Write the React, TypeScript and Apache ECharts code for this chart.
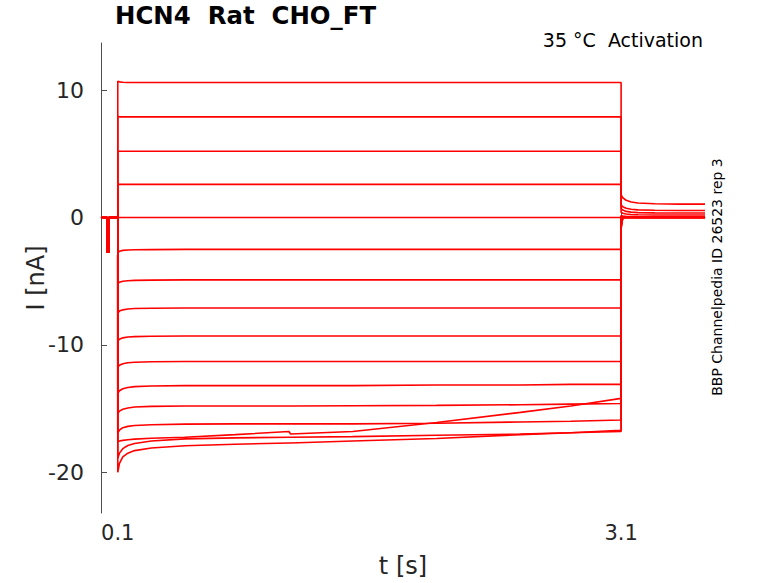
import React, { useEffect, useRef } from 'react'
import * as echarts from 'echarts'

// holding period with the short test pulse, then the step, then the tail
const baseTimes = [0, 0.037, 0.037, 0.047, 0.047, 0.1]
const baseCurrents = [0, 0, -2.7, -2.7, 0, 0]

const stepTimes = [0.1, 0.11, 0.13, 0.16, 0.2, 0.3, 0.5, 0.8, 1.12, 1.13, 1.5, 2.0, 2.5, 2.8, 3.1]
const stepCurrents = [
  [10.7, 10.65, 10.62, 10.6, 10.6, 10.6, 10.6, 10.6, 10.6, 10.6, 10.6, 10.6, 10.6, 10.6, 10.6],
  [7.95, 7.9, 7.9, 7.9, 7.9, 7.9, 7.9, 7.9, 7.9, 7.9, 7.9, 7.9, 7.9, 7.9, 7.9],
  [5.2, 5.2, 5.2, 5.2, 5.2, 5.2, 5.2, 5.2, 5.2, 5.2, 5.2, 5.2, 5.2, 5.2, 5.2],
  [2.6, 2.6, 2.6, 2.6, 2.6, 2.6, 2.6, 2.6, 2.6, 2.6, 2.6, 2.6, 2.6, 2.6, 2.6],
  [0, 0, 0, 0, 0, 0, 0, 0, 0, 0, 0, 0, 0, 0, 0],
  [-2.75, -2.65, -2.58, -2.55, -2.53, -2.52, -2.5, -2.5, -2.5, -2.5, -2.5, -2.5, -2.5, -2.5, -2.5],
  [-5.2, -5.08, -5.0, -4.96, -4.94, -4.92, -4.9, -4.9, -4.9, -4.9, -4.9, -4.9, -4.9, -4.9, -4.9],
  [-7.5, -7.35, -7.25, -7.18, -7.15, -7.12, -7.1, -7.1, -7.1, -7.1, -7.1, -7.1, -7.1, -7.1, -7.1],
  [-9.7, -9.55, -9.45, -9.38, -9.35, -9.32, -9.3, -9.3, -9.3, -9.3, -9.3, -9.3, -9.3, -9.3, -9.3],
  [-11.75, -11.6, -11.48, -11.4, -11.36, -11.32, -11.3, -11.3, -11.3, -11.3, -11.3, -11.3, -11.3, -11.3, -11.3],
  [-13.8, -13.6, -13.45, -13.35, -13.28, -13.23, -13.2, -13.2, -13.2, -13.2, -13.2, -13.15, -13.15, -13.1, -13.1],
  [-15.4, -15.2, -15.05, -14.95, -14.88, -14.83, -14.8, -14.8, -14.8, -14.8, -14.78, -14.75, -14.7, -14.65, -14.6],
  [-16.9, -16.7, -16.5, -16.4, -16.33, -16.27, -16.22, -16.2, -16.2, -16.2, -16.2, -16.15, -16.05, -16.0, -15.9],
  [-17.6, -17.55, -17.5, -17.45, -17.4, -17.33, -17.25, -17.05, -16.8, -17.0, -16.8, -16.1, -15.3, -14.8, -14.2],
  [-18.9, -18.5, -18.15, -17.9, -17.75, -17.55, -17.38, -17.3, -17.25, -17.25, -17.2, -17.1, -17.0, -16.9, -16.8],
  [-20.0, -19.3, -18.8, -18.5, -18.3, -18.1, -17.92, -17.8, -17.7, -17.7, -17.55, -17.35, -17.05, -16.9, -16.7],
]

const tailTimes = [3.1, 3.11, 3.13, 3.16, 3.2, 3.3, 3.45, 3.6]
const tailCurrents = [
  [1.8, 1.55, 1.35, 1.22, 1.14, 1.08, 1.05, 1.05],
  [1.0, 0.85, 0.72, 0.65, 0.6, 0.57, 0.55, 0.55],
  [0.7, 0.58, 0.48, 0.42, 0.38, 0.36, 0.35, 0.35],
  [0.4, 0.33, 0.27, 0.24, 0.22, 0.2, 0.2, 0.2],
  [0.15, 0.12, 0.1, 0.08, 0.07, 0.06, 0.05, 0.05],
  [0.1, 0.08, 0.06, 0.05, 0.05, 0.04, 0.04, 0.04],
  [0.08, 0.06, 0.05, 0.04, 0.04, 0.03, 0.03, 0.03],
  [0.05, 0.04, 0.03, 0.03, 0.02, 0.02, 0.02, 0.02],
  [0.03, 0.02, 0.02, 0.02, 0.01, 0.01, 0.01, 0.01],
  [0, 0, 0, 0, 0, 0, 0, 0],
  [-0.2, 0, 0, 0, 0, 0, 0, 0],
  [-0.4, 0, 0, 0, 0, 0, 0, 0],
  [-0.6, 0, 0, 0, 0, 0, 0, 0],
  [-0.7, 0, 0, 0, 0, 0, 0, 0],
  [-0.8, 0, 0, 0, 0, 0, 0, 0],
  [-0.9, 0, 0, 0, 0, 0, 0, 0],
]

const xTicks = [0.1, 3.1]
const yTicks = [-20, -10, 0, 10]

const FONT = 'DejaVu Sans'
const INK = '#262626'

export default function App() {
  const chartRef = useRef<HTMLDivElement>(null)

  useEffect(() => {
    const chart = echarts.init(chartRef.current, null, { renderer: 'svg' })

    const series = stepCurrents.map((trace, k) => ({
      type: 'line',
      symbol: 'none',
      silent: true,
      lineStyle: { color: '#ff0000', width: 1.6 },
      data: [
        ...baseTimes.map((t, i) => [t, baseCurrents[i]]),
        ...stepTimes.map((t, i) => [t, trace[i]]),
        ...tailTimes.map((t, i) => [t, tailCurrents[k][i]]),
      ],
    }))

    chart.setOption({
      animation: false,
      grid: { left: 101, top: 43, width: 604, height: 470 },
      xAxis: {
        type: 'value',
        min: 0,
        max: 3.6,
        axisLine: { lineStyle: { color: '#4d4d4d', width: 1 } },
        axisTick: { inside: true, length: 6, customValues: xTicks, lineStyle: { color: '#4d4d4d' } },
        axisLabel: { customValues: xTicks, color: INK, fontFamily: FONT, fontSize: 21, margin: 9 },
        splitLine: { show: false },
      },
      yAxis: {
        type: 'value',
        min: -23.2,
        max: 13.7,
        axisLine: { show: true, lineStyle: { color: '#4d4d4d', width: 1 } },
        axisTick: { show: true, inside: true, length: 6, customValues: yTicks, lineStyle: { color: '#4d4d4d' } },
        axisLabel: { customValues: yTicks, color: INK, fontFamily: FONT, fontSize: 22, margin: 17 },
        splitLine: { show: false },
      },
      graphic: [
        {
          type: 'text', left: 115, top: 3,
          style: { text: 'HCN4  Rat  CHO_FT', fontFamily: FONT, fontWeight: 'bold', fontSize: 24.4, fill: '#000' },
        },
        {
          type: 'text', right: 75, top: 30,
          style: { text: '35 °C  Activation', fontFamily: FONT, fontSize: 19, fill: '#000' },
        },
        {
          type: 'text', x: 403, y: 566,
          style: { text: 't [s]', fontFamily: FONT, fontSize: 24, fill: INK, align: 'center', verticalAlign: 'middle' },
        },
        {
          type: 'text', x: 36, y: 278, rotation: Math.PI / 2,
          style: { text: 'I [nA]', fontFamily: FONT, fontSize: 24, fill: INK, align: 'center', verticalAlign: 'middle' },
        },
        {
          type: 'text', x: 717, y: 277, rotation: Math.PI / 2,
          style: { text: 'BBP Channelpedia ID 26523 rep 3', fontFamily: FONT, fontSize: 14, fill: '#000', align: 'center', verticalAlign: 'middle' },
        },
      ],
      series,
    })
    return () => chart.dispose()
  }, [])

  return <div ref={chartRef} style={{ position: 'fixed', left: 0, top: 0, width: 778, height: 583, background: '#fff' }} />
}
